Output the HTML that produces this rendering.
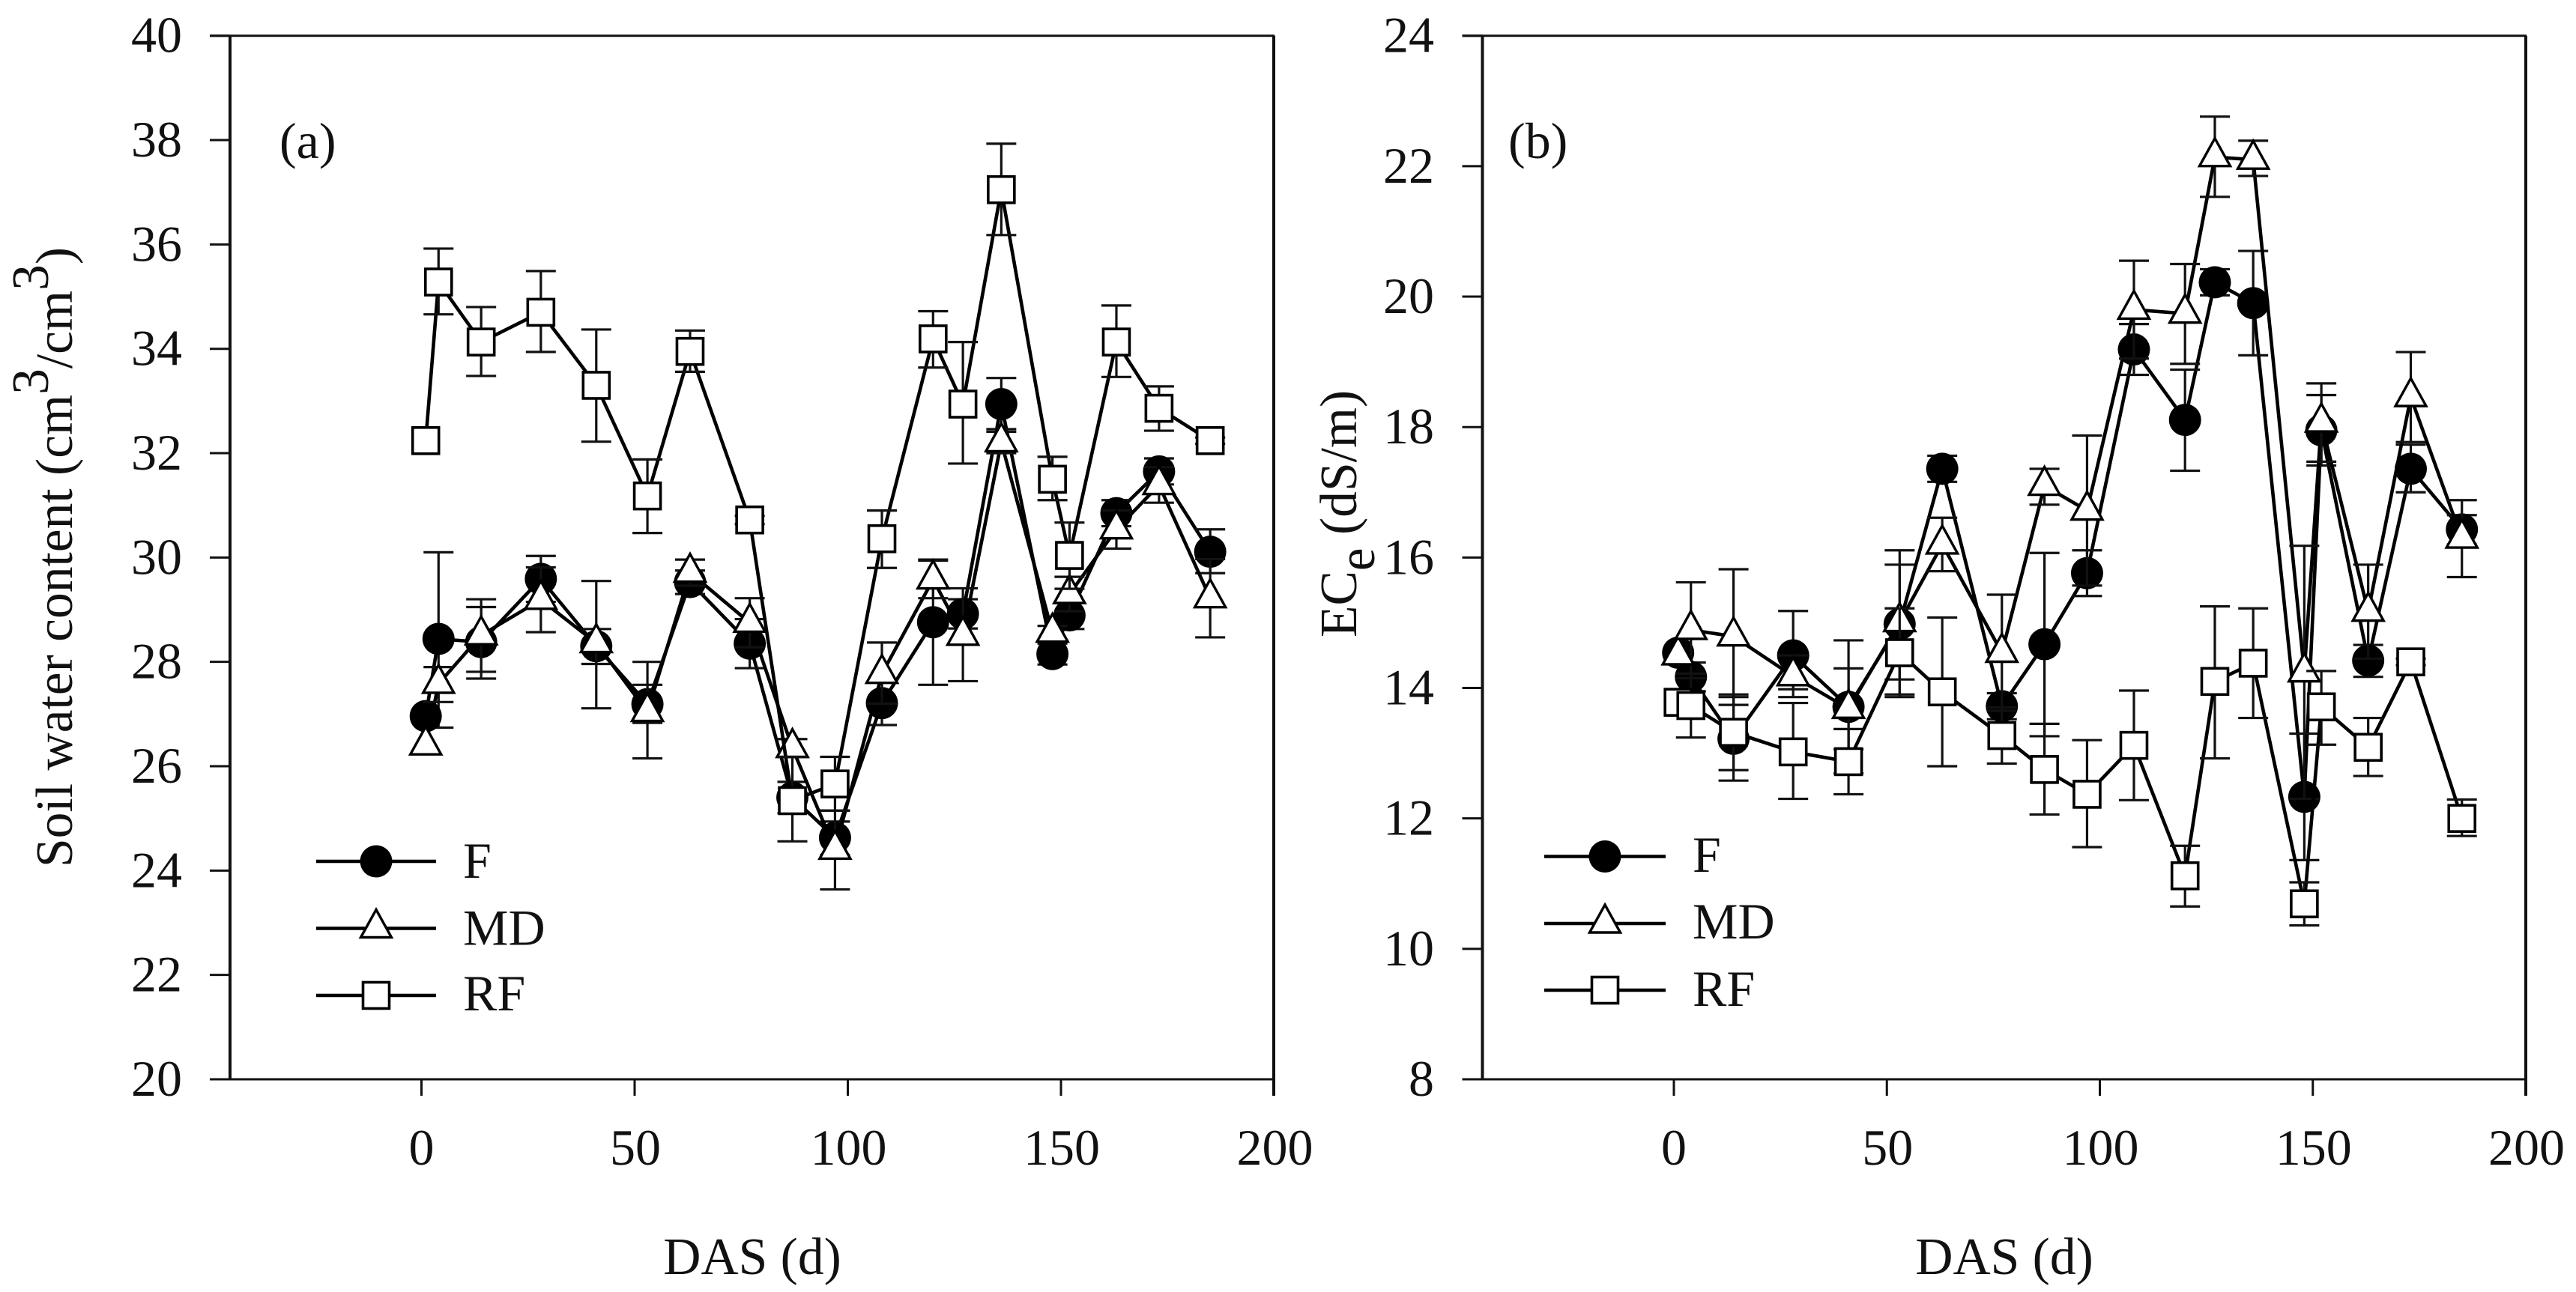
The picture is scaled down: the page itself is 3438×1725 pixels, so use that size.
<!DOCTYPE html>
<html lang="en">
<head>
<meta charset="utf-8">
<title>Soil water content and ECe vs DAS</title>
<style>
html,body{margin:0;padding:0;background:#fff;}
svg{display:block;}
text{font-family:"Liberation Serif",serif;font-size:68px;fill:#111;}
text.axis-title{font-size:69.5px;}
</style>
</head>
<body>
<svg id="chart" xmlns="http://www.w3.org/2000/svg" width="3438" height="1725" viewBox="0 0 3438 1725">
  <rect x="0" y="0" width="3438" height="1725" fill="#fff"/>
  <text class="axis-title" transform="translate(96,1158) rotate(-90)">Soil water content (cm<tspan dy="-32">3</tspan><tspan dy="32">/cm</tspan><tspan dy="-32">3</tspan><tspan dy="32">)</tspan></text>
  <text class="axis-title" x="1004" y="1701" text-anchor="middle">DAS (d)</text>
  <text x="373" y="211">(a)</text>
  <text class="axis-title" transform="translate(1810,851) rotate(-90)">EC<tspan dy="24">e</tspan><tspan dy="-24"> (dS/m)</tspan></text>
  <text class="axis-title" x="2675" y="1701" text-anchor="middle">DAS (d)</text>
  <text x="2013" y="211">(b)</text>
</svg>
<script>
var days = [1,4,14,28,41,53,63,77,87,97,108,120,127,136,148,152,163,173,185];
var xTickLabels = [0,50,100,150,200];
var yTicksA = [20,22,24,26,28,30,32,34,36,38,40];
var yTicksB = [8,10,12,14,16,18,20,22,24];
var seriesNames = ['F','MD','RF'];

var aF     = [26.96,28.44,28.38,29.59,28.30,27.19,29.53,28.35,25.40,24.63,27.21,28.76,28.92,32.94,28.15,28.89,30.85,31.65,30.11];
var aFHigh = [null,30.10,29.05,30.03,28.63,27.56,29.75,28.82,25.70,24.94,27.63,29.96,29.20,33.44,28.35,29.15,31.10,31.90,30.54];
var aFLow  = [null,26.74,27.68,29.15,27.96,26.83,29.30,27.88,25.10,24.30,26.79,27.56,28.64,32.46,27.95,28.63,30.60,31.40,29.70];

var aMD     = [26.40,27.58,28.51,29.19,28.36,27.04,29.71,28.75,26.35,24.40,27.77,29.58,28.50,32.21,28.56,29.30,30.54,31.39,29.22];
var aMDHigh = [null,27.90,29.20,29.81,29.55,28.00,29.96,29.22,26.52,25.15,28.37,29.94,29.41,32.41,28.69,29.63,30.90,31.73,29.97];
var aMDLow  = [null,27.23,27.81,28.57,27.11,26.15,29.46,28.28,26.18,23.64,27.20,29.22,27.63,32.00,28.43,28.97,30.17,31.05,28.47];

var aRF     = [32.24,35.28,34.13,34.70,33.30,31.18,33.95,30.72,25.34,25.66,30.36,34.19,32.94,37.05,31.50,30.04,34.13,32.86,32.24];
var aRFHigh = [null,35.92,34.80,35.49,34.37,31.88,34.35,30.80,26.18,26.18,30.90,34.72,34.13,37.93,31.93,30.67,34.83,33.28,32.30];
var aRFLow  = [null,34.66,33.48,33.94,32.22,30.47,33.56,30.64,24.56,25.15,29.80,33.64,31.80,36.18,31.10,29.40,33.46,32.43,32.18];

var bF     = [14.54,14.17,13.22,14.50,13.71,14.98,17.36,13.72,14.67,15.76,19.19,18.11,20.22,19.90,12.33,17.95,14.42,17.36,16.43];
var bFHigh = [null,14.39,13.86,15.18,14.73,16.11,17.56,13.92,16.07,16.11,19.58,18.88,20.42,20.70,13.30,18.49,14.66,17.73,16.65];
var bFLow  = [null,13.95,12.58,13.86,12.69,13.90,17.16,13.52,13.26,15.41,18.80,17.33,20.02,19.10,11.36,17.41,14.17,17.00,16.20];

var bMD     = [14.50,14.89,14.79,14.18,13.68,15.01,16.20,14.54,17.10,16.72,19.80,19.74,22.14,22.10,14.24,18.07,15.17,18.46,16.29];
var bMDHigh = [null,15.62,15.82,14.50,14.30,15.89,16.61,15.43,17.36,17.87,20.55,20.50,22.76,22.39,16.18,18.67,15.89,19.15,16.88];
var bMDLow  = [null,14.15,13.74,13.98,13.06,14.13,15.79,13.65,16.81,15.57,19.05,18.97,21.53,21.85,12.30,17.47,14.45,17.77,15.70];

var bRF     = [13.78,13.73,13.32,13.02,12.87,14.54,13.94,13.27,12.75,12.37,13.12,11.12,14.10,14.38,10.69,13.71,13.09,14.40,12.00];
var bRFHigh = [null,14.22,13.90,13.77,13.37,15.22,15.08,13.70,13.45,13.20,13.96,11.58,15.25,15.22,11.02,14.26,13.54,14.45,12.29];
var bRFLow  = [null,13.24,12.74,12.30,12.37,13.86,12.80,12.84,12.06,11.56,12.28,10.65,12.92,13.54,10.36,13.13,12.65,14.35,11.73];

var svg = document.getElementById('chart');
var NS = 'http://www.w3.org/2000/svg';
var INK = '#111';

function make(parent, tag, attrs) {
  var el = document.createElementNS(NS, tag);
  for (var k in attrs) { el.setAttribute(k, attrs[k]); }
  parent.appendChild(el);
  return el;
}
function seg(parent, x1, y1, x2, y2, w) {
  return make(parent, 'line', {x1:x1, y1:y1, x2:x2, y2:y2, stroke:INK, 'stroke-width':w});
}
function marker(parent, kind, cx, cy) {
  var el;
  if (kind === 'F') {
    el = make(parent, 'circle', {cx:cx, cy:cy, r:21.5, fill:'#000'});
  } else if (kind === 'MD') {
    var pts = cx + ',' + (cy - 25) + ' ' + (cx + 20.5) + ',' + (cy + 12) + ' ' + (cx - 20.5) + ',' + (cy + 12);
    el = make(parent, 'polygon', {points:pts, fill:'#fff', stroke:'#000', 'stroke-width':3.4});
  } else {
    el = make(parent, 'rect', {x:cx - 17.5, y:cy - 17.5, width:35, height:35, fill:'#fff', stroke:'#000', 'stroke-width':3.6});
  }
  return el;
}

function drawPanel(cfg) {
  var x = function (d) { return cfg.x0 + d * cfg.xPerUnit; };
  var y = function (v) { return cfg.top + (cfg.yMax - v) * (cfg.bottom - cfg.top) / (cfg.yMax - cfg.yMin); };
  var g = make(svg, 'g', {});
  
  

  var axes = make(g, 'g', {});
  
  
  seg(axes, cfg.left, cfg.top, cfg.left, cfg.bottom, 4);
  seg(axes, cfg.right, cfg.top, cfg.right, cfg.bottom + 22, 4);
  seg(axes, cfg.left - 27, cfg.top, cfg.right + 1, cfg.top, 3);
  seg(axes, cfg.left - 27, cfg.bottom, cfg.right + 1, cfg.bottom, 3);

  cfg.yTicks.forEach(function (v) {
    var yy = y(v);
    var tick = seg(axes, cfg.left - 27, yy, cfg.left, yy, 3);
    
    
    var label = make(axes, 'text', {x:cfg.yLabelX, y:yy + 22, 'text-anchor':'end'});
    label.textContent = String(v);
    
    
  });
  xTickLabels.forEach(function (v) {
    var xx = x(v);
    var tick = seg(axes, xx, cfg.bottom, xx, cfg.bottom + 22, 3);
    
    
    var label = make(axes, 'text', {x:xx + (v === 0 ? 0 : 1), y:1555, 'text-anchor':'middle'});
    label.textContent = String(v);
    
    
  });

  cfg.series.forEach(function (s) {
    var sg = make(g, 'g', {});
    
    
    var pts = days.map(function (d, i) { return x(d) + ',' + y(s.mean[i]); }).join(' ');
    var line = make(sg, 'polyline', {points:pts, fill:'none', stroke:'#000', 'stroke-width':4.6, 'stroke-linejoin':'miter'});
    
    
    days.forEach(function (d, i) {
      if (s.high[i] === null) { return; }
      var xx = x(d), hi = y(s.high[i]), lo = y(s.low[i]);
      var eb = make(sg, 'g', {});
      
      
      seg(eb, xx, hi, xx, lo, 3.2);
      seg(eb, xx - 20, hi, xx + 20, hi, 3.2);
      seg(eb, xx - 20, lo, xx + 20, lo, 3.2);
    });
    days.forEach(function (d, i) {
      var m = marker(sg, s.name, x(d), y(s.mean[i]));
      
      
    });
  });

  var legend = make(g, 'g', {});
  
  
  seriesNames.forEach(function (name, i) {
    var entry = make(legend, 'g', {});
    
    
    var ly = cfg.legendY[i];
    make(entry, 'line', {x1:cfg.legendX1, y1:ly, x2:cfg.legendX2, y2:ly, stroke:'#000', 'stroke-width':4.4});
    marker(entry, name, (cfg.legendX1 + cfg.legendX2) / 2, ly);
    var t = make(entry, 'text', {x:cfg.legendTextX, y:cfg.legendBase[i]});
    t.textContent = name;
  });
}

drawPanel({
  id:'a', x0:562.5, xPerUnit:5.69, left:307, right:1700, top:47.7, bottom:1441,
  yMin:20, yMax:40, yTicks:yTicksA, yLabelX:243,
  legendX1:422, legendX2:582, legendY:[1150,1239.5,1329], legendTextX:618, legendBase:[1172,1261.5,1349],
  series:[
    {name:'F', mean:aF, high:aFHigh, low:aFLow},
    {name:'MD', mean:aMD, high:aMDHigh, low:aMDLow},
    {name:'RF', mean:aRF, high:aRFHigh, low:aRFLow}
  ]
});
drawPanel({
  id:'b', x0:2234, xPerUnit:5.685, left:1978.5, right:3371, top:47.7, bottom:1441,
  yMin:8, yMax:24, yTicks:yTicksB, yLabelX:1914,
  legendX1:2061, legendX2:2223, legendY:[1143.5,1233,1322], legendTextX:2259, legendBase:[1164,1253,1343],
  series:[
    {name:'F', mean:bF, high:bFHigh, low:bFLow},
    {name:'MD', mean:bMD, high:bMDHigh, low:bMDLow},
    {name:'RF', mean:bRF, high:bRFHigh, low:bRFLow}
  ]
});
</script>
</body>
</html>
